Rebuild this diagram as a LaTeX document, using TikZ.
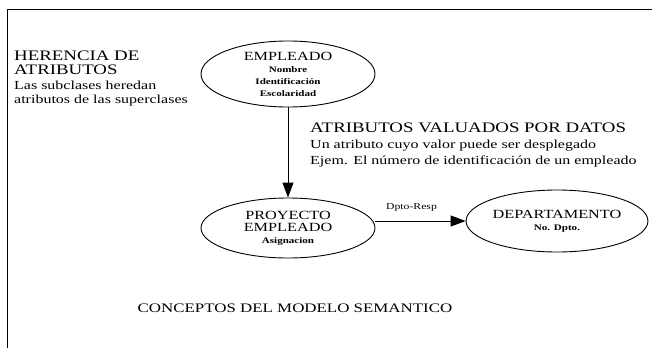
\documentclass[tikz,border=0pt]{standalone}
\usepackage{fontspec}
\setmainfont[FakeStretch=1.3]{Liberation Serif}
\usetikzlibrary{shapes.geometric,arrows.meta}
\tikzset{
concepto/.style={draw, ellipse, line width=0.9pt, minimum width=174pt, minimum height=66pt,
  inner sep=0pt, align=center, font=\bfseries\fontsize{8.5}{12}\selectfont},
titulo/.style={anchor=base west, inner sep=0pt, font=\fontsize{14.5}{14}\selectfont},
nota/.style={anchor=base west, inner sep=0pt, font=\fontsize{12.3}{13}\selectfont},
flecha/.style={line width=1pt, -{Triangle[length=15pt,width=11pt]}}
}
\newcommand{\nomconcepto}[1]{{\mdseries\fontsize{12.5}{14}\selectfont #1}}

\begin{document}
\begin{tikzpicture}[x=1pt,y=-1pt]
\useasboundingbox (0,0) rectangle (652,348);
\draw[line width=0.8pt] (7,348) -- (7,9) -- (652,9);

\node[titulo] (herencia) at (14,60) {HERENCIA DE};
\node[titulo] (herencia2) at (14,74) {ATRIBUTOS};
\node[nota] (herenciatxt) at (14,89) {Las subclases heredan};
\node[nota] (herenciatxt2) at (14,103) {atributos de las superclases};

\node[concepto] (emp) at (288,74) {\nomconcepto{EMPLEADO}\\Nombre\\Identificación\\Escolaridad};
\node[concepto, minimum height=60pt] (pro) at (288,228) {\nomconcepto{PROYECTO}\\\nomconcepto{EMPLEADO}\\Asignacion};
\node[concepto, minimum width=177pt, minimum height=62pt] (dep) at (557,221) {\nomconcepto{DEPARTAMENTO}\\No. Dpto.};

\node[titulo] (valuados) at (310,132) {ATRIBUTOS VALUADOS POR DATOS};
\node[nota] (valuadostxt) at (310,148) {Un atributo cuyo valor puede ser desplegado};
\node[nota] (valuadostxt2) at (310,164) {Ejem. El número de identificación de un empleado};

\draw[flecha] (emp) -- (pro);
\draw[flecha] (pro.east |- dep.west) -- node[pos=0.4, above=9pt, inner sep=0pt, font=\fontsize{9}{10}\selectfont] (resp) {Dpto-Resp} (dep.west);

\node[font=\fontsize{13}{16}\selectfont] (modelo) at (295,308) {CONCEPTOS DEL MODELO SEMANTICO};
\end{tikzpicture}
\end{document}
